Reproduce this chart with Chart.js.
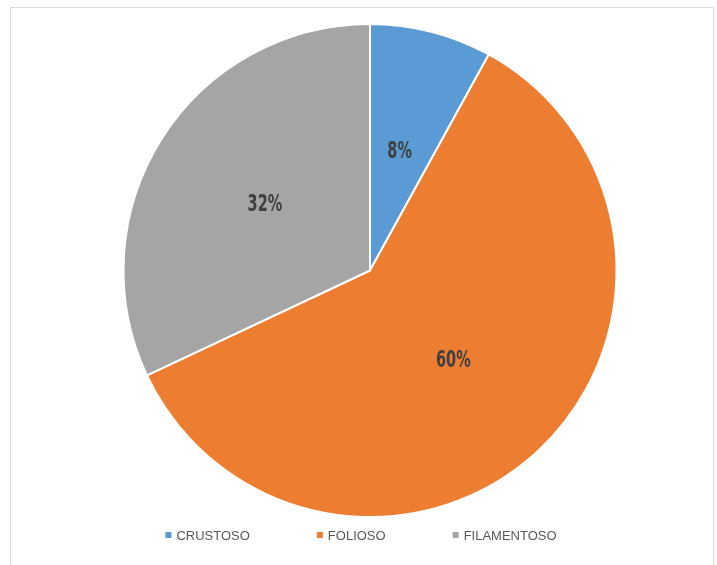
<!DOCTYPE html>
<html>
<head>
<meta charset="utf-8">
<script src="https://cdn.jsdelivr.net/npm/chart.js@4.4.1/dist/chart.umd.min.js"></script>
<style>
html,body{margin:0;padding:0;background:#fff;overflow:hidden}
#frame{position:absolute;left:10px;top:7px;width:704px;height:600px;border:1px solid #dcdcdc;box-sizing:border-box}
#pieChart{position:absolute;left:0;top:0}
</style>
</head>
<body>
<div id="frame"></div>
<canvas id="pieChart" width="717" height="565"></canvas>
<script>

/* ---------- DATA ---------- */

const categories = ["CRUSTOSO","FOLIOSO","FILAMENTOSO"]
const percentages = [8,60,32]
const sliceColors = ["#5b9bd5","#ed7d31","#a5a5a5"]


/* ---------- PERCENT LABELS ON SLICES ---------- */

const sliceLabels = {
id:"sliceLabels",
afterDatasetsDraw(chart){
const ctx = chart.ctx
const meta = chart.getDatasetMeta(0)
ctx.save()
ctx.font = "bold 23px 'DejaVu Sans Condensed', sans-serif"
ctx.fillStyle = "#404040"
ctx.textAlign = "center"
ctx.textBaseline = "middle"
meta.data.forEach((arc,i)=>{
const pos = arc.tooltipPosition()
// squeeze the text horizontally, the labels use a narrow face
ctx.save()
ctx.translate(pos.x-1,pos.y+1)
ctx.scale(0.7,1)
ctx.fillText(chart.data.datasets[0].data[i]+"%",0,0)
ctx.restore()
})
ctx.restore()
}
}


/* ---------- BOTTOM LEGEND ---------- */

const bottomLegend = {
id:"bottomLegend",
afterDraw(chart){
const ctx = chart.ctx
const labels = chart.data.labels
const colors = chart.data.datasets[0].backgroundColor
const gap = 67, box = 6, boxGap = 5
const y = 535
ctx.save()
ctx.font = "13px 'Liberation Sans', sans-serif"
ctx.textBaseline = "middle"
const widths = labels.map(l=>ctx.measureText(l).width)
let total = widths.reduce((a,w)=>a+w+box+boxGap,0) + gap*(labels.length-1)
let x = 361 - total/2
labels.forEach((l,i)=>{
ctx.fillStyle = colors[i]
ctx.fillRect(x,y-box/2,box,box)
ctx.fillStyle = "#595959"
ctx.fillText(l,x+box+boxGap,y+1)
x += box+boxGap+widths[i]+gap
})
ctx.restore()
}
}


/* ---------- PIE CHART ---------- */

new Chart(document.getElementById("pieChart"),{

type:"pie",

data:{
labels:categories,
datasets:[{
data:percentages,
backgroundColor:sliceColors,
borderColor:"#ffffff",
borderWidth:2
}]
},

options:{
responsive:false,
animation:false,
maintainAspectRatio:false,
layout:{padding:{left:23,right:0,top:23,bottom:47}},
plugins:{
legend:{display:false},
tooltip:{enabled:false}
}
},

plugins:[sliceLabels,bottomLegend]

})

</script>
</body>
</html>
